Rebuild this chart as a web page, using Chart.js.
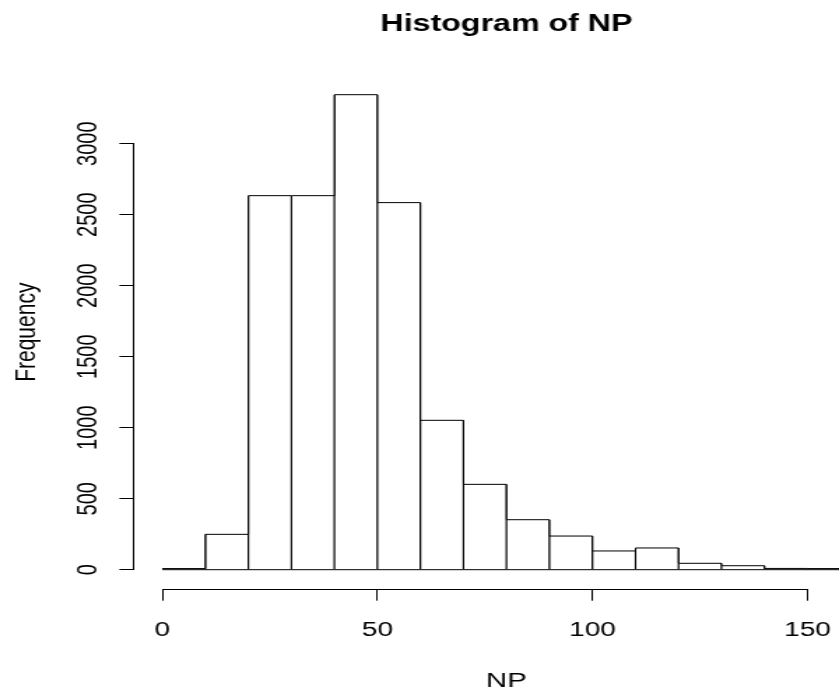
<!DOCTYPE html>
<html>
<head>
<meta charset="utf-8">
<script src="https://cdn.jsdelivr.net/npm/chart.js@4/dist/chart.umd.min.js"></script>
<style>
  html, body { margin: 0; padding: 0; background: #fff; overflow: hidden; width: 839px; height: 694px; }
  #wrap { width: 628px; height: 694px; transform: scaleX(1.39833); transform-origin: 0 0; }
  canvas { display: block; }
</style>
</head>
<body>
<div id="wrap"><canvas id="c" width="628" height="694" style="width:628px;height:694px"></canvas></div>
<script>
// ---- data (histogram of NP, bin width 10) ----
const binStarts = [0, 10, 20, 30, 40, 50, 60, 70, 80, 90, 100, 110, 120, 130, 140, 150];
const binWidth = 10;
const counts = [8, 249, 2634, 2634, 3345, 2585, 1052, 601, 352, 237, 132, 153, 45, 28, 9, 8];
const xTicks = [0, 50, 100, 150];
const yTicks = [0, 500, 1000, 1500, 2000, 2500, 3000];
const titleText = 'Histogram of NP';
const xLabel = 'NP';
const yLabel = 'Frequency';

// bars (white fill, vertical edges)
const barPoints = binStarts.map((s, i) => ({ x: s + binWidth / 2, y: counts[i] }));
// top edges of the rectangles as a stepped outline
const topPoints = binStarts.map((s, i) => ({ x: s, y: counts[i] }));
topPoints.push({ x: binStarts[binStarts.length - 1] + binWidth, y: counts[counts.length - 1] });
// bottom edges of the rectangles
const basePoints = [{ x: binStarts[0], y: 0 }, { x: binStarts[binStarts.length - 1] + binWidth, y: 0 }];

// R-style axes: lines only from first to last tick
const axisLines = {
  id: 'axisLines',
  afterDraw(chart) {
    const { ctx, scales: { x, y }, chartArea } = chart;
    ctx.save();
    ctx.strokeStyle = '#000';
    ctx.lineWidth = 1;
    ctx.beginPath();
    const yb = Math.round(chartArea.bottom) + 0.5;
    ctx.moveTo(x.getPixelForValue(xTicks[0]), yb);
    ctx.lineTo(x.getPixelForValue(xTicks[xTicks.length - 1]), yb);
    const xl = Math.round(chartArea.left) - 0.5;
    ctx.moveTo(xl, y.getPixelForValue(yTicks[0]));
    ctx.lineTo(xl, y.getPixelForValue(yTicks[yTicks.length - 1]));
    ctx.stroke();
    ctx.restore();
  }
};

Chart.defaults.font.family = '"Liberation Sans", Arial, Helvetica, sans-serif';
Chart.defaults.color = '#000';

new Chart(document.getElementById('c'), {
  type: 'bar',
  data: {
    datasets: [
      {
        type: 'line',
        order: 0,
        data: topPoints,
        stepped: 'before',
        borderColor: '#000',
        borderWidth: 1,
        pointRadius: 0,
        fill: false
      },
      {
        type: 'line',
        order: 0,
        data: basePoints,
        borderColor: '#000',
        borderWidth: 1,
        pointRadius: 0,
        fill: false
      },
      {
        type: 'bar',
        order: 1,
        data: barPoints,
        backgroundColor: '#ffffff',
        borderColor: '#000000',
        borderWidth: { top: 0, left: 1.1, right: 1.1, bottom: 0 },
        borderSkipped: false,
        inflateAmount: 0.55,
        barPercentage: 1.0,
        categoryPercentage: 1.0
      }
    ]
  },
  options: {
    responsive: false,
    devicePixelRatio: 1,
    animation: false,
    layout: { padding: 0 },
    plugins: {
      legend: { display: false },
      tooltip: { enabled: false },
      title: {
        display: true,
        text: titleText,
        fullSize: false,
        color: '#000',
        font: { size: 23, weight: 'bold' },
        padding: { top: 10.9, bottom: 37.2 }
      }
    },
    scales: {
      x: {
        type: 'linear',
        min: -6.4,
        max: 166.4,
        offset: false,
        afterFit: (s) => { s.height = 105.3; },
        afterBuildTicks: (s) => { s.ticks = xTicks.map(v => ({ value: v })); },
        border: { display: false },
        grid: { display: true, offset: false, drawOnChartArea: false, drawTicks: true, tickLength: 12, color: '#000', lineWidth: 1 },
        ticks: { autoSkip: false, maxRotation: 0, minRotation: 0, padding: 17.3, font: { size: 20 }, color: '#000', callback: (v) => String(v) },
        title: { display: true, text: xLabel, color: '#000', font: { size: 21 }, padding: { top: 0, bottom: 0 } }
      },
      y: {
        type: 'linear',
        min: -133.8,
        max: 3478.8,
        afterFit: (s) => { s.width = 96.4; },
        afterBuildTicks: (s) => { s.ticks = yTicks.map(v => ({ value: v })); },
        border: { display: false },
        grid: { display: true, drawOnChartArea: false, drawTicks: true, tickLength: 11, color: '#000', lineWidth: 1 },
        ticks: { autoSkip: false, minRotation: 90, maxRotation: 90, crossAlign: 'center', padding: -0.6, font: { size: 20 }, color: '#000', callback: (v) => String(v) },
        title: { display: true, text: yLabel, color: '#000', font: { size: 21 }, padding: { top: 6.8, bottom: 0 } }
      }
    }
  },
  plugins: [axisLines]
});
</script>
</body>
</html>
